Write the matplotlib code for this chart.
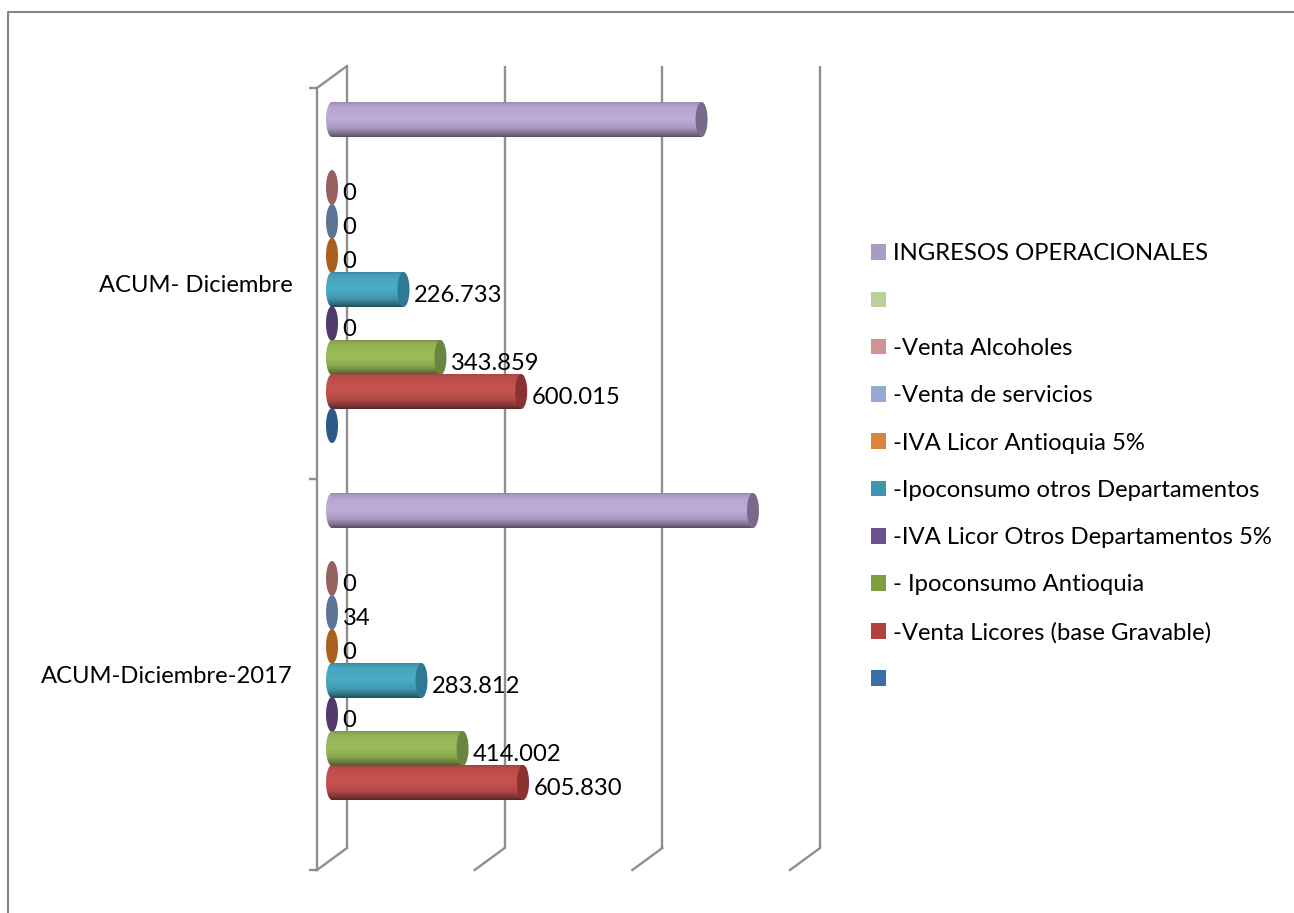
import matplotlib
matplotlib.use('Agg')
import matplotlib.pyplot as plt
import numpy as np
from matplotlib.lines import Line2D
from matplotlib.patches import Polygon, Patch
from matplotlib.transforms import ScaledTranslation

plt.rcParams['font.family'] = ['Lato', 'DejaVu Sans']

# datos
categories = ['ACUM-Diciembre-2017', 'ACUM- Diciembre']
series_names = ['INGRESOS OPERACIONALES', '', '-Venta Alcoholes', '-Venta de servicios',
                '-IVA Licor Antioquia 5%', '-Ipoconsumo otros Departamentos',
                '-IVA Licor Otros Departamentos 5%', '- Ipoconsumo Antioquia',
                '-Venta Licores (base Gravable)', '']
ingresos = [1335000, 1172000]
vacio_verde = [None, None]
alcoholes = [0, 0]
servicios = [34, 0]
iva_antioquia = [0, 0]
ipo_otros = [283812, 226733]
iva_otros = [0, 0]
ipo_antioquia = [414002, 343859]
licores = [605830, 600015]
vacio_azul = [None, 0]
series_values = [ingresos, vacio_verde, alcoholes, servicios, iva_antioquia,
                 ipo_otros, iva_otros, ipo_antioquia, licores, vacio_azul]
show_labels = [False, False, True, True, True, True, True, True, True, False]

# colores
legend_colors = ['#a99bc1', '#bad09a', '#d19392', '#95abd1', '#dd843c',
                 '#3e96ae', '#6b4f8f', '#7f9e3e', '#b0413e', '#3c6ea6']
body_colors = ['#bfacd9', '#bad09a', '#96615f', '#5c7596', '#a8601c',
               '#4bacc6', '#4f3a6b', '#9cbc59', '#c6524f', '#2a5a87']
cap_colors = ['#786a8d', '#7f9e3e', '#96615f', '#5c7596', '#a8601c',
              '#2d7a92', '#4f3a6b', '#6a8540', '#8b3230', '#2a5a87']
GRAY = '#8f8f8f'

W, H = 1294, 913
fig = plt.figure(figsize=(W / 100, H / 100), dpi=100)
ax = fig.add_axes([317 / W, 1 - 870 / H, 473 / W, 782 / H])
ax.set_xlim(0, 1500000)
ax.set_ylim(-0.5, 1.5)
ax.patch.set_alpha(0)

px = 0.72  # un pixel en puntos
LEGEND_FONT = 17.2
LABEL_FONT = 17.1
LW = 1.7


def shifted(dx, dy):
    return ax.transData + ScaledTranslation(dx / 100, dy / 100, fig.dpi_scale_trans)


mid = shifted(15, 11)
back = shifted(30, 22)

# paredes y suelo 3D
grid_values = [0, 500000, 1000000, 1500000]
ax.vlines(grid_values, -0.5, 1.5, color=GRAY, lw=LW, transform=back, zorder=1, clip_on=False)
for v in grid_values:
    pts_front = ax.transData.transform((v, -0.5))
    ax.add_line(Line2D([pts_front[0], pts_front[0] + 30], [pts_front[1], pts_front[1] + 22],
                       transform=None, color=GRAY, lw=LW, zorder=1, clip_on=False))
pts_top = ax.transData.transform((0, 1.5))
ax.add_line(Line2D([pts_top[0], pts_top[0] + 30], [pts_top[1], pts_top[1] + 22],
                   transform=None, color=GRAY, lw=LW, zorder=1, clip_on=False))

for side in ['top', 'right', 'bottom']:
    ax.spines[side].set_visible(False)
ax.spines['left'].set_color(GRAY)
ax.spines['left'].set_linewidth(LW)
ax.set_xticks([])
ax.set_yticks([0, 1])
ax.set_yticklabels(categories, fontsize=LABEL_FONT, color='black')
ax.tick_params(axis='y', which='major', length=0, pad=24.5 * px)
ax.set_yticks([-0.5, 0.5, 1.5], minor=True)
ax.tick_params(axis='y', which='minor', length=8 * px, width=LW, color=GRAY)

# cilindros
step = 34 / 391
bar_h = 35 / 391
rx = 6 * 1500000 / 473
ry = bar_h / 2
profile_pos = [0, 0.04, 0.15, 0.5, 0.75, 0.92, 1]
profile_val = [0.78, 0.88, 0.96, 1.0, 0.88, 0.62, 0.45]
t = np.linspace(0, 1, 80)
shade = np.interp(t, profile_pos, profile_val)
th = np.linspace(np.pi / 2, 3 * np.pi / 2, 30)

for i, values in enumerate(series_values):
    offset = (4.5 - i) * step
    for c, val in enumerate(values):
        if val is None:
            continue
        y = c + offset
        cap_x = val + rx * np.cos(np.linspace(0, 2 * np.pi, 60))
        cap_y = y + ry * np.sin(np.linspace(0, 2 * np.pi, 60))
        if val > 5000:
            left = np.column_stack([rx * np.cos(th), y + ry * np.sin(th)])
            right = np.column_stack([val - rx * np.cos(th), y - ry * np.sin(th)])
            outline = Polygon(np.vstack([left, right]), closed=True, transform=mid,
                              fc='none', ec='none')
            ax.add_patch(outline)
            base = np.array(matplotlib.colors.to_rgb(body_colors[i]))
            grad = np.clip(shade[:, None, None] * base[None, None, :], 0, 1)
            img = ax.imshow(grad, extent=(-rx, val, y - ry, y + ry), origin='upper',
                            aspect='auto', interpolation='bilinear', zorder=3 + i * 0.1)
            img.set_transform(mid)
            img.set_clip_path(outline)
        ax.fill(cap_x, cap_y, color=cap_colors[i], transform=mid, zorder=3.05 + i * 0.1,
                clip_on=False, lw=0)
        if show_labels[i]:
            txt = f'{val:,}'.replace(',', '.')
            ax.annotate(txt, xy=(val, y), xycoords=mid, xytext=(10.5 * px, -6 * px),
                        textcoords='offset points', va='center', ha='left',
                        fontsize=LABEL_FONT, color='black', zorder=10)

ax.set_xlim(0, 1500000)
ax.set_ylim(-0.5, 1.5)

# leyenda
handles = [Patch(facecolor=col, edgecolor='none') for col in legend_colors]
fig.legend(handles, series_names, loc='center left', bbox_to_anchor=(871 / W, 1 - 467 / H),
           frameon=False, fontsize=LEGEND_FONT, handlelength=0.628, handleheight=0.628,
           handletextpad=0.29, labelspacing=1.1, borderaxespad=0, borderpad=0)

# borde del grafico
fig.add_artist(Line2D([8 / W, 8 / W, 1], [0, 1 - 12 / H, 1 - 12 / H], color='#868686', lw=1.5))

fig.savefig('out.png', dpi=100)
